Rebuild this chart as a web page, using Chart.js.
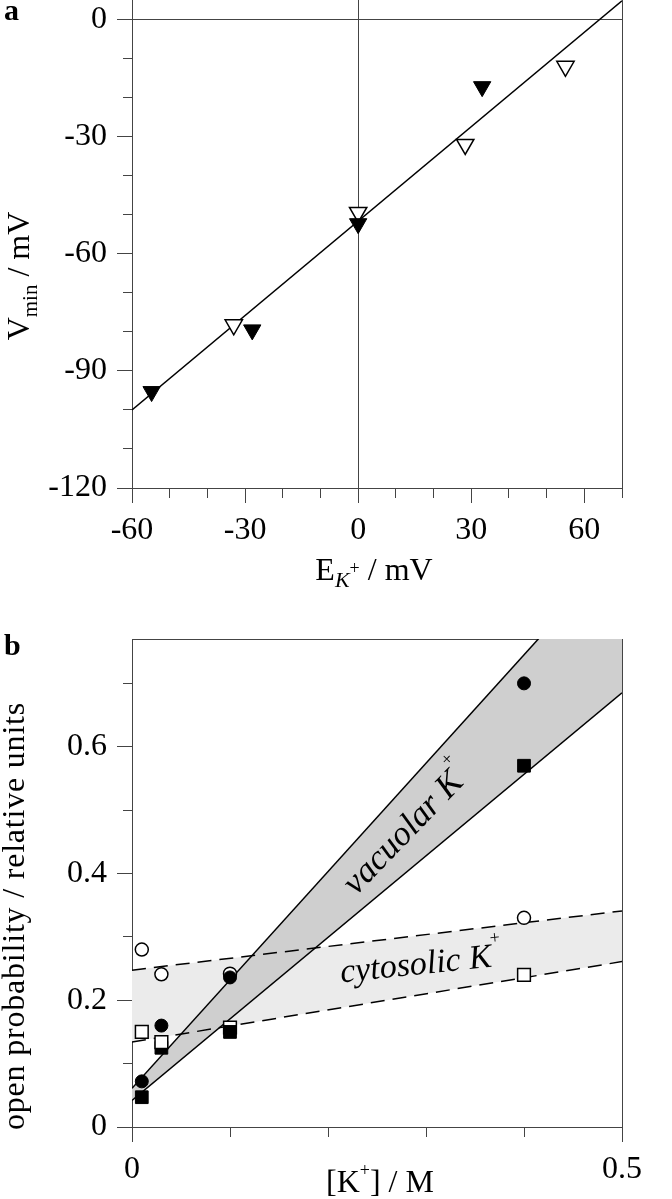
<!DOCTYPE html>
<html><head><meta charset="utf-8">
<script src="https://cdn.jsdelivr.net/npm/chart.js@4/dist/chart.umd.min.js"></script>
<style>
html,body{margin:0;padding:0;background:#fff;overflow:hidden;}
#wa{position:absolute;left:0;top:0;width:672px;height:600px;}
#wb{position:absolute;left:0;top:600px;width:672px;height:599px;}
</style></head><body>
<div id="wa"><canvas id="ca" width="672" height="600"></canvas></div>
<div id="wb"><canvas id="cb" width="672" height="599"></canvas></div>
<script>
// ---------- Panel a ----------
const aOpenX   = [-33, 0, 28.4, 55];
const aOpenY   = [-78.2, -49.4, -32, -12];
const aFilledX = [-54.8, -28.1, 0, 32.9];
const aFilledY = [-95.3, -79.5, -52.3, -17.2];
const aFitX    = [-60, 70];
const aFitY    = [-100, 4.8];
const aXTicks  = [-60, -50, -40, -30, -20, -10, 0, 10, 20, 30, 40, 50, 60, 70];
const aXLabels = [-60, -30, 0, 30, 60];
const aYTicks  = [-120, -110, -100, -90, -80, -70, -60, -50, -40, -30, -20, -10, 0];
const aYLabels = [-120, -90, -60, -30, 0];

// ---------- Panel b ----------
const bX            = [0.01, 0.03, 0.1, 0.4];
const bFilledCircle = [0.072, 0.16, 0.236, 0.70];
const bOpenCircle   = [0.280, 0.241, 0.242, 0.330];
const bFilledSquare = [0.047, 0.125, 0.15, 0.57];
const bOpenSquareX  = [0.01, 0.03, 0.4];
const bOpenSquareY  = [0.15, 0.134, 0.24];
const bOpenSquareBackX = [0.1];
const bOpenSquareBackY = [0.157];
const bLineX        = [0, 0.5];
const bVacUpper     = [0.061, 0.916];
const bVacLower     = [0.042, 0.685];
const bCytoUpper    = [0.2475, 0.341];
const bCytoLower    = [0.134, 0.261];
const bXTicks  = [0, 0.1, 0.2, 0.3, 0.4, 0.5];
const bXLabels = [0, 0.5];
const bYTicks  = [0, 0.1, 0.2, 0.3, 0.4, 0.5, 0.6, 0.7, 0.77];
const bYLabels = [0, 0.2, 0.4, 0.6];

const S = '"Liberation Serif", "Times New Roman", serif';
const AX = '#444';
const pts = (xs, ys) => xs.map((x, i) => ({x: x, y: ys[i]}));
const has = (arr, v) => arr.some(a => Math.abs(a - v) < 1e-9);

function drawRuns(ctx, cx, cy, angle, runs, spacing) {
  ctx.save();
  ctx.translate(cx, cy);
  ctx.rotate(angle);
  ctx.textAlign = 'left';
  ctx.textBaseline = 'alphabetic';
  ctx.fillStyle = '#000';
  if (spacing) ctx.letterSpacing = spacing + 'px';
  let total = 0;
  const ws = runs.map(r => { ctx.font = r.font; const w = ctx.measureText(r.text).width; total += w; return w; });
  let x = -total / 2;
  runs.forEach((r, i) => { ctx.font = r.font; ctx.fillText(r.text, x, r.dy || 0); x += ws[i]; });
  ctx.restore();
}

function axisCfg(opts) {
  const horiz = opts.horiz;
  return {
    type: 'linear', min: opts.min, max: opts.max,
    afterBuildTicks: s => { s.ticks = opts.ticks.map(v => ({value: v})); },
    afterFit: s => {
      if (horiz) { s.height = opts.size; s.paddingLeft = 0; s.paddingRight = 0; }
      else { s.width = opts.size; s.paddingTop = 0; s.paddingBottom = 0; }
    },
    ticks: {
      autoSkip: false, maxRotation: 0, minRotation: 0, padding: horiz ? 8 : 10,
      color: '#000', font: {family: S, size: 32},
      callback: v => has(opts.labels, v) ? String(v) : ''
    },
    grid: {
      drawTicks: true, tickLength: 15, lineWidth: 1, tickWidth: 1,
      color: c => (c.tick && has(opts.lines, c.tick.value)) ? AX : 'rgba(0,0,0,0)',
      tickColor: c => (c.tick && has(opts.noTick || [], c.tick.value)) ? 'rgba(0,0,0,0)' : AX,
      tickBorderDash: c => (c.tick && has(opts.labels, c.tick.value)) ? [] : (horiz ? [9, 30] : [0, 6, 9, 30])
    },
    border: {display: true, color: AX, width: 1}
  };
}

// ---------- Chart a ----------
new Chart(document.getElementById('ca'), {
  type: 'line',
  data: {
    datasets: [
      {data: pts(aFilledX, aFilledY), showLine: false, pointStyle: 'triangle', pointRotation: 180,
       pointRadius: 10, pointHoverRadius: 10, pointBackgroundColor: '#000', pointBorderColor: '#000', pointBorderWidth: 1},
      {data: pts(aOpenX, aOpenY), showLine: false, pointStyle: 'triangle', pointRotation: 180,
       pointRadius: 10, pointHoverRadius: 10, pointBackgroundColor: '#fff', pointBorderColor: '#000', pointBorderWidth: 1.5},
      {data: pts(aFitX, aFitY), showLine: true, borderColor: '#000', borderWidth: 1.5, pointRadius: 0, fill: false}
    ]
  },
  options: {
    responsive: false, animation: false, devicePixelRatio: 1,
    layout: {autoPadding: false, padding: {left: 0, right: 50, top: 0, bottom: 0}},
    plugins: {legend: {display: false}, tooltip: {enabled: false}},
    scales: {
      x: axisCfg({horiz: true, min: -60, max: 70, ticks: aXTicks, labels: aXLabels, lines: [0, 70], size: 112}),
      y: axisCfg({horiz: false, min: -120, max: 5, ticks: aYTicks, labels: aYLabels, lines: [0], size: 132})
    }
  },
  plugins: [{
    id: 'textA',
    afterDraw(chart) {
      const ctx = chart.ctx;
      ctx.save();
      ctx.fillStyle = '#000';
      ctx.font = 'bold 30px ' + S;
      ctx.textAlign = 'left'; ctx.textBaseline = 'alphabetic';
      ctx.fillText('a', 4, 20);
      ctx.restore();
      drawRuns(ctx, 374, 580, 0, [
        {text: 'E', font: '32px ' + S},
        {text: 'K', font: 'italic 22px ' + S, dy: 7},
        {text: '+', font: '18px ' + S, dy: -6},
        {text: ' / mV', font: '32px ' + S}
      ]);
      drawRuns(ctx, 29, 276, -Math.PI / 2, [
        {text: 'V', font: '32px ' + S},
        {text: 'min', font: '21px ' + S, dy: 8},
        {text: ' / mV', font: '32px ' + S}
      ]);
    }
  }]
});

// ---------- Chart b ----------
new Chart(document.getElementById('cb'), {
  type: 'line',
  data: {
    datasets: [
      {data: pts(bX, bFilledCircle), showLine: false, pointStyle: 'circle', pointRadius: 6.5, pointHoverRadius: 6.5,
       pointBackgroundColor: '#000', pointBorderColor: '#000', pointBorderWidth: 1},
      {data: pts(bX, bOpenCircle), showLine: false, pointStyle: 'circle', pointRadius: 6.5, pointHoverRadius: 6.5,
       pointBackgroundColor: '#fff', pointBorderColor: '#000', pointBorderWidth: 1.5},
      {data: pts(bOpenSquareX, bOpenSquareY), showLine: false, pointStyle: 'rect', pointRadius: 9, pointHoverRadius: 9,
       pointBackgroundColor: '#fff', pointBorderColor: '#000', pointBorderWidth: 1.5},
      {data: pts(bX, bFilledSquare), showLine: false, pointStyle: 'rect', pointRadius: 9, pointHoverRadius: 9,
       pointBackgroundColor: '#000', pointBorderColor: '#000', pointBorderWidth: 1},
      {data: pts(bOpenSquareBackX, bOpenSquareBackY), showLine: false, pointStyle: 'rect', pointRadius: 9, pointHoverRadius: 9,
       pointBackgroundColor: '#fff', pointBorderColor: '#000', pointBorderWidth: 1.5},
      {data: pts(bLineX, bVacUpper), showLine: true, borderColor: '#000', borderWidth: 1.5, pointRadius: 0,
       fill: '+1', backgroundColor: '#cfcfcf'},
      {data: pts(bLineX, bVacLower), showLine: true, borderColor: '#000', borderWidth: 1.5, pointRadius: 0, fill: false},
      {data: pts(bLineX, bCytoUpper), showLine: true, borderColor: '#000', borderWidth: 1.5, borderDash: [14, 8], pointRadius: 0,
       fill: '+1', backgroundColor: '#ebebeb'},
      {data: pts(bLineX, bCytoLower), showLine: true, borderColor: '#000', borderWidth: 1.5, borderDash: [14, 8], pointRadius: 0, fill: false}
    ]
  },
  options: {
    responsive: false, animation: false, devicePixelRatio: 1,
    layout: {autoPadding: false, padding: {left: 0, right: 50, top: 39, bottom: 0}},
    plugins: {legend: {display: false}, tooltip: {enabled: false}, filler: {drawTime: 'beforeDatasetsDraw', propagate: false}},
    scales: {
      x: axisCfg({horiz: true, min: 0, max: 0.5, ticks: bXTicks, labels: bXLabels, lines: [0.5], size: 72}),
      y: axisCfg({horiz: false, min: 0, max: 0.77, ticks: bYTicks, labels: bYLabels, lines: [0.77], noTick: [0.77], size: 132})
    }
  },
  plugins: [{
    id: 'textB',
    afterDraw(chart) {
      const ctx = chart.ctx;
      ctx.save();
      ctx.fillStyle = '#000';
      ctx.font = 'bold 30px ' + S;
      ctx.textAlign = 'left'; ctx.textBaseline = 'alphabetic';
      ctx.fillText('b', 4, 55);
      ctx.restore();
      drawRuns(ctx, 380, 592, 0, [
        {text: '[K', font: '32px ' + S},
        {text: '+', font: '18px ' + S, dy: -16},
        {text: '] / M', font: '32px ' + S}
      ]);
      drawRuns(ctx, 24, 316, -Math.PI / 2, [
        {text: 'open probability / relative units', font: '32px ' + S}
      ], 0.8);
      drawRuns(ctx, 414, 236, -46 * Math.PI / 180, [
        {text: 'vacuolar K', font: 'italic 35px ' + S},
        {text: '+', font: '18px ' + S, dy: -24}
      ]);
      drawRuns(ctx, 422, 374, -6 * Math.PI / 180, [
        {text: 'cytosolic K', font: 'italic 34px ' + S},
        {text: '+', font: '18px ' + S, dy: -23}
      ]);
    }
  }]
});
</script>
</body></html>
